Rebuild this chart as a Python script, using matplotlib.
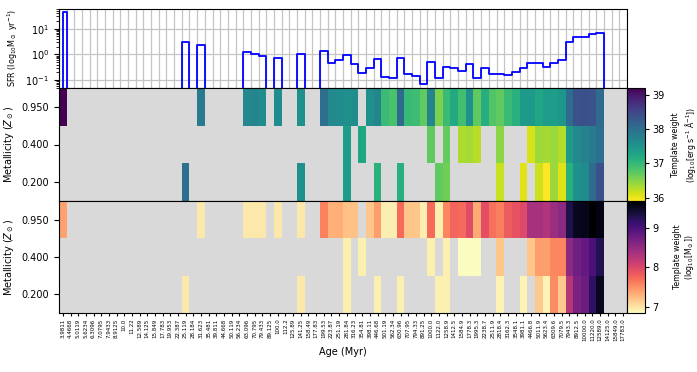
import numpy as np
import matplotlib
matplotlib.use("Agg")
import matplotlib.pyplot as plt

n = np.nan

age_labels = ["3.9811", "4.4668", "5.0119", "5.6234", "6.3096", "7.0795", "7.9433", "8.9125",
              "10.0", "11.22", "12.589", "14.125", "15.849", "17.783", "19.953", "22.387",
              "25.119", "28.184", "31.623", "35.481", "39.811", "44.668", "50.119", "56.234",
              "63.096", "70.795", "79.433", "89.125", "100.0", "112.2", "125.89", "141.25",
              "158.49", "177.83", "199.53", "223.87", "251.19", "281.84", "316.23", "354.81",
              "398.11", "446.68", "501.19", "562.34", "630.96", "707.95", "794.33", "891.25",
              "1000.0", "1122.0", "1258.9", "1412.5", "1584.9", "1778.3", "1995.3", "2238.7",
              "2511.9", "2818.4", "3162.3", "3548.1", "3981.1", "4466.8", "5011.9", "5623.4",
              "6309.6", "7079.5", "7943.3", "8912.5", "10000.0", "11220.0", "12589.0",
              "14125.0", "15849.0", "17783.0"]
metallicity_labels = ["0.950", "0.400", "0.200"]

# star formation rate per age bin (Msun/yr)
sfr = [46, 0, 0, 0, 0, 0, 0, 0, 0, 0,
       0, 0, 0, 0, 0, 0, 3.1, 0, 2.4, 0,
       0, 0, 0, 0, 1.23, 1.03, 0.91, 0, 0.72, 0,
       0, 1.0, 0, 0, 1.38, 0.45, 0.62, 0.98, 0.43, 0.19,
       0.30, 0.64, 0.13, 0.12, 0.74, 0.18, 0.15, 0.072, 0.50, 0.12,
       0.33, 0.29, 0.23, 0.43, 0.12, 0.30, 0.17, 0.17, 0.16, 0.21,
       0.30, 0.47, 0.47, 0.34, 0.47, 0.59, 3.0, 4.6, 4.9, 6.5,
       7.0, 0, 0, 0]

# luminosity weights, log10 erg/s/A
lum_z095 = [39.2, n, n, n, n, n, n, n, n, n,
            n, n, n, n, n, n, n, n, 37.85, n,
            n, n, n, n, 37.65, 37.7, 37.6, n, 37.6, n,
            n, 37.55, n, n, 37.98, 37.65, 37.6, 37.55, 37.6, n,
            37.55, 37.7, 36.95, 36.85, 38.05, 36.97, 36.93, 36.7, 37.7, 36.55,
            36.95, 37.2, 36.9, 37.55, 36.7, 37.15, 36.8, 36.7, 36.95, 37.1,
            37.4, 37.42, 37.25, 37.38, 37.35, 37.47, 38.05, 38.38, 38.4, 38.35,
            38.05, n, n, n]
lum_z040 = [n, n, n, n, n, n, n, n, n, n,
            n, n, n, n, n, n, n, n, n, n,
            n, n, n, n, n, n, n, n, n, n,
            n, n, n, n, n, n, n, 37.35, n, 37.25,
            n, n, n, n, n, n, n, n, 36.7, n,
            36.68, n, 36.3, 36.35, 36.25, n, n, 36.47, n, n,
            n, 36.1, 36.38, 36.35, 36.4, 36.28, 37.42, 37.65, 37.75, 37.85,
            38.0, n, n, n]
lum_z020 = [n, n, n, n, n, n, n, n, n, n,
            n, n, n, n, n, n, 38.0, n, n, n,
            n, n, n, n, n, n, n, n, n, n,
            n, 37.55, n, n, n, n, n, 37.35, n, n,
            n, 37.08, n, n, 37.1, n, n, n, n, 36.7,
            36.62, n, n, n, n, n, n, 36.18, n, n,
            36.05, n, 36.15, 35.9, 36.4, 36.05, 37.1, 37.55, 37.6, 38.05,
            38.4, n, n, n]

# mass weights, log10 Msun
mass_z095 = [7.4, n, n, n, n, n, n, n, n, n,
             n, n, n, n, n, n, n, n, 6.97, n,
             n, n, n, n, 6.97, 6.97, 6.97, n, 6.97, n,
             n, 6.97, n, n, 7.58, 7.3, 7.32, 7.2, 7.2, n,
             7.18, 7.41, 6.93, 6.93, 7.72, 7.18, 7.18, 6.93, 7.72, 6.92,
             7.55, 7.75, 7.72, 7.95, 7.35, 7.92, 7.69, 7.6, 7.81, 7.89,
             7.98, 8.37, 8.37, 8.29, 8.43, 8.54, 9.31, 9.51, 9.54, 9.68,
             9.57, n, n, n]
mass_z040 = [n, n, n, n, n, n, n, n, n, n,
             n, n, n, n, n, n, n, n, n, n,
             n, n, n, n, n, n, n, n, n, n,
             n, n, n, n, n, n, n, 6.92, n, 6.92,
             n, n, n, n, n, n, n, n, 6.92, n,
             6.92, n, 6.85, 6.84, 6.85, n, n, 7.18, n, n,
             n, 7.18, 7.41, 7.41, 7.55, 7.55, 8.54, 8.74, 8.83, 9.0,
             9.28, n, n, n]
mass_z020 = [n, n, n, n, n, n, n, n, n, n,
             n, n, n, n, n, n, 6.97, n, n, n,
             n, n, n, n, n, n, n, n, n, n,
             n, 6.97, n, n, n, n, n, 6.92, n, n,
             n, 6.92, n, n, 6.92, n, n, n, n, 6.92,
             6.92, n, n, n, n, n, n, 6.9, n, n,
             6.9, n, 7.16, 6.9, 7.52, 7.16, 8.26, 8.68, 8.77, 9.17,
             9.51, n, n, n]

nbins = len(age_labels)
centers = np.arange(nbins) + 0.5
lum = np.array([lum_z095, lum_z040, lum_z020])
mass = np.array([mass_z095, mass_z040, mass_z020])

fig = plt.figure(figsize=(6.97, 3.72), dpi=100)
W, H = 697, 372

def box(x0, y0, x1, y1):
    return [x0 / W, 1 - y1 / H, (x1 - x0) / W, (y1 - y0) / H]

ax_sfr = fig.add_axes(box(59, 8.7, 627, 88))
ax_lum = fig.add_axes(box(59, 88, 627, 201))
ax_mass = fig.add_axes(box(59, 201, 627, 313))
cax_lum = fig.add_axes(box(627, 88, 645, 201))
cax_mass = fig.add_axes(box(627, 201, 645, 313))

# SFR history
xs = np.concatenate([[centers[0]], centers])
ys = np.concatenate([[0], sfr])
ax_sfr.step(xs, ys, where='mid', color='blue', lw=1.3, zorder=3)
ax_sfr.set_yscale('log')
ax_sfr.set_ylim(0.05, 60)
ax_sfr.set_xlim(0, nbins)
ax_sfr.set_xticks(np.arange(nbins + 1))
ax_sfr.tick_params(axis='x', length=0, labelbottom=False)
ax_sfr.grid(True, which='major', color='#c4c4c4', lw=0.9)
ax_sfr.tick_params(axis='y', labelsize=7)
ax_sfr.set_ylabel(r'SFR (log$_{10}$M$_\odot$ yr$^{-1}$)', fontsize=5.8)

# template weight maps
for ax, data, cmap, cax, label in [
        (ax_lum, lum, 'viridis_r', cax_lum,
         'Template weight\n' + r'(log$_{10}$[erg s$^{-1}$ Å$^{-1}$])'),
        (ax_mass, mass, 'magma_r', cax_mass,
         'Template weight\n' + r'(log$_{10}$[M$_\odot$])')]:
    ax.set_facecolor('#d9d9d9')
    im = ax.imshow(data, cmap=cmap, aspect='auto', interpolation='nearest',
                   extent=(0, nbins, 3, 0))
    ax.set_yticks([0.5, 1.5, 2.5])
    ax.set_yticklabels(metallicity_labels, fontsize=7)
    ax.set_ylabel(r'Metallicity ($Z_\odot$)', fontsize=7)
    ax.set_xlim(0, nbins)
    cb = fig.colorbar(im, cax=cax)
    cb.ax.tick_params(labelsize=7, pad=2, length=3)
    cb.set_label(label, fontsize=5.6, ha='center', va='center')
    cb.ax.yaxis.set_label_coords(3.2, 0.5)

ax_lum.set_xticks([])
ax_mass.set_xticks(centers)
ax_mass.set_xticklabels(age_labels, rotation=90, fontsize=4)
ax_mass.tick_params(axis='x', length=2.5, pad=1.5)
ax_mass.set_xlabel('Age (Myr)', fontsize=7)

fig.savefig('out.png', dpi=100)
